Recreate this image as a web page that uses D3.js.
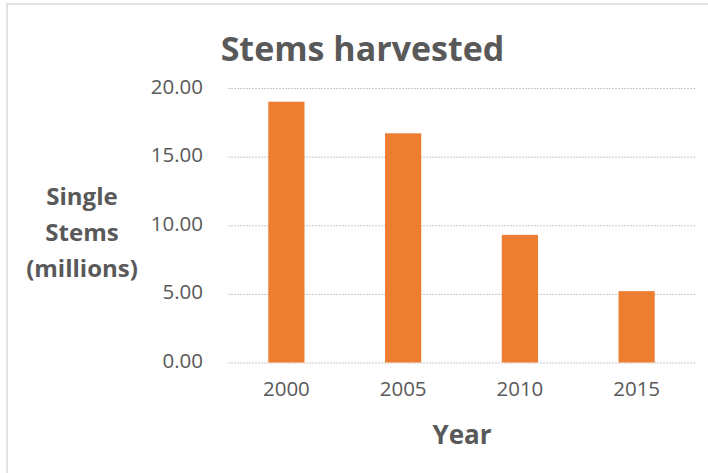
<!DOCTYPE html>
<html>
<head>
<meta charset="utf-8">
<script src="https://cdn.jsdelivr.net/npm/d3@7"></script>
<style>
  html, body { margin: 0; padding: 0; background: #fff; }
  svg { display: block; font-family: "Open Sans", "Noto Sans", sans-serif; }
</style>
</head>
<body>
<svg id="chart" width="708" height="473"></svg>
<script>
// Stems harvested per survey year (millions of single stems)
const years = ["2000", "2005", "2010", "2015"];
const stems = [19.0, 16.7, 9.3, 5.2];
const yTicks = [0, 5, 10, 15, 20];

const svg = d3.select("#chart");
const W = 708, H = 473;
const plot = { left: 228, right: 695, top: 88, bottom: 362.5 };
const textColor = "#595959";

// chart frame
svg.append("path")
  .attr("d", `M7,${H} V4 H${W}`)
  .attr("fill", "none")
  .attr("stroke", "#d9d9d9")
  .attr("stroke-width", 1.5);

const x = d3.scaleBand().domain(years).range([plot.left, plot.right]).paddingInner(0.69).paddingOuter(0.345);
const y = d3.scaleLinear().domain([0, 20]).range([plot.bottom, plot.top]);

// gridlines
const grid = d3.axisLeft(y).tickValues(yTicks).tickSize(-(plot.right - plot.left)).tickFormat("");
svg.append("g")
  .attr("transform", `translate(${plot.left},0)`)
  .call(grid)
  .call(g => g.select(".domain").remove())
  .call(g => g.selectAll("line").attr("stroke", "#c8c8c8").attr("stroke-dasharray", "2,1").attr("stroke-width", 1));

// y tick labels
const yAxis = d3.axisLeft(y).tickValues(yTicks).tickSize(0).tickPadding(0).tickFormat(d3.format(".2f"));
svg.append("g")
  .attr("transform", `translate(203,-1.5)`)
  .call(yAxis)
  .call(g => g.select(".domain").remove())
  .call(g => g.selectAll("text").attr("fill", textColor).attr("font-size", 20.5).attr("font-family", "Open Sans"));

// bars
svg.append("g").selectAll("rect")
  .data(years.map((yr, i) => ({ yr, v: stems[i] })))
  .join("rect")
  .attr("x", d => x(d.yr))
  .attr("y", d => y(d.v))
  .attr("width", x.bandwidth())
  .attr("height", d => y(0) - y(d.v))
  .attr("fill", "#ed7d31");

// x tick labels
const xAxis = d3.axisBottom(x).tickSize(0).tickPadding(0);
svg.append("g")
  .attr("transform", `translate(0,381)`)
  .call(xAxis)
  .call(g => g.select(".domain").remove())
  .call(g => g.selectAll("text").attr("fill", textColor).attr("font-size", 20.5).attr("font-family", "Open Sans"));

// title
svg.append("text")
  .attr("x", 362.5).attr("y", 61)
  .attr("text-anchor", "middle")
  .attr("fill", textColor)
  .attr("font-weight", "bold")
  .attr("font-size", 34)
  .text("Stems harvested");

// x axis title
svg.append("text")
  .attr("x", 462).attr("y", 444)
  .attr("text-anchor", "middle")
  .attr("fill", textColor)
  .attr("font-weight", "bold")
  .attr("font-size", 26)
  .text("Year");

// y axis title (three lines)
const yTitle = ["Single", "Stems", "(millions)"];
svg.append("text")
  .attr("text-anchor", "middle")
  .attr("fill", textColor)
  .attr("font-weight", "bold")
  .attr("font-size", 24)
  .selectAll("tspan")
  .data(yTitle)
  .join("tspan")
  .attr("x", 82)
  .attr("y", (d, i) => 205 + i * 36)
  .text(d => d);
</script>
</body>
</html>
